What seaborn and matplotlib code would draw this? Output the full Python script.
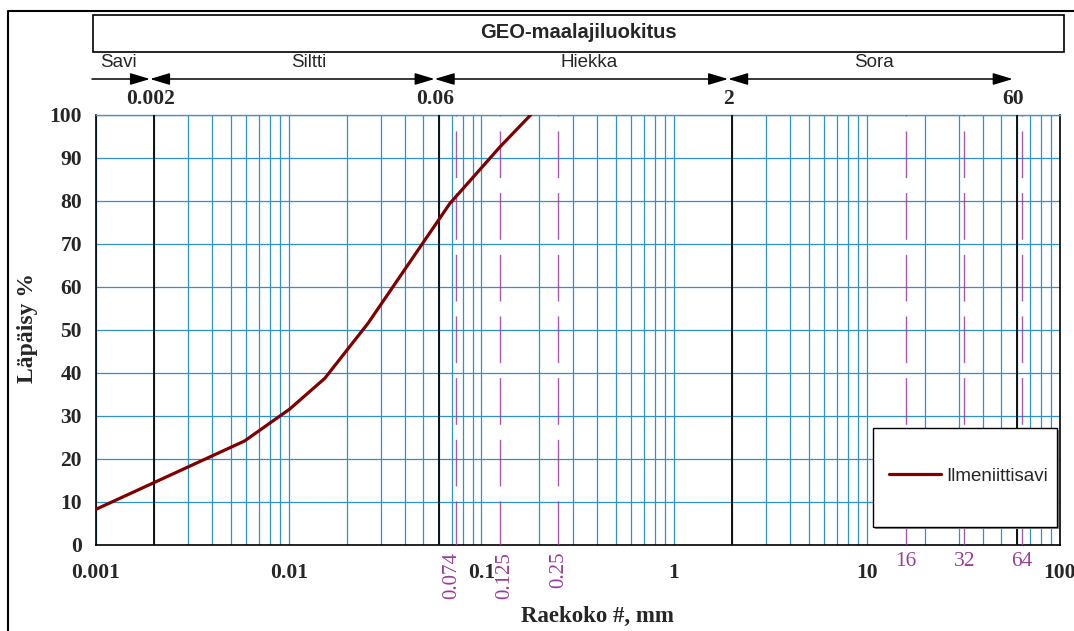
import numpy as np
import pandas as pd
import seaborn as sns
import matplotlib.pyplot as plt
import matplotlib.transforms as mtransforms
from matplotlib.patches import Rectangle
from matplotlib.lines import Line2D
from matplotlib.ticker import LogLocator, MultipleLocator, FuncFormatter, NullFormatter

# Grain size distribution data
#-------------------------------------------------------------------------------------------------#
grain_size_mm = [0.001, 0.0059, 0.0101, 0.0154, 0.0258, 0.0686, 0.125, 0.18]
passing_pct = [8.2, 24.1, 31.5, 38.7, 51.5, 79.4, 92.6, 100.0]
sample_name = "Ilmeniittisavi"

# GEO soil classes and their limits
class_names = ["Savi", "Siltti", "Hiekka", "Sora"]
class_limits = [0.002, 0.06, 2, 60]
class_limit_labels = ["0.002", "0.06", "2", "60"]

# sieve sizes marked with dashed lines
sieve_rotated = [0.074, 0.125, 0.25]
sieve_rotated_labels = ["0.074", "0.125", "0.25"]
sieve_flat = [16, 32, 64]
sieve_flat_labels = ["16", "32", "64"]

# layout only: x-positions of the class names, nudges of rotated sieve labels (px)
class_name_x = [0.00137, 0.0134, 0.38, 11.4]
sieve_label_dx = [-4, 5, 1]

GRID_BLUE = "#2e92cf"
PURPLE = "#9a3c9a"
DARK_RED = "#800000"

sns.set_style("white")
plt.rcParams["font.family"] = ["Liberation Serif", "DejaVu Serif"]
plt.rcParams["font.weight"] = "bold"

df = pd.DataFrame({"size": grain_size_mm, "passing": passing_pct})

W, H = 1074, 631
fig = plt.figure(figsize=(W / 100, H / 100), dpi=100)
ax = fig.add_axes([96 / W, (H - 544.5) / H, (1059.5 - 96) / W, (544.5 - 115) / H])

sns.lineplot(data=df, x="size", y="passing", ax=ax, color=DARK_RED, lw=2.3,
             label=sample_name, zorder=4)

ax.set_xscale("log")
ax.set_xlim(0.001, 100)
ax.set_ylim(0, 100)
ax.set_xlabel("")
ax.set_ylabel("")

ax.xaxis.set_major_locator(LogLocator(base=10, numticks=10))
ax.xaxis.set_minor_locator(LogLocator(base=10, subs=np.arange(2, 10), numticks=30))
ax.xaxis.set_major_formatter(FuncFormatter(lambda v, p: f"{v:g}"))
ax.xaxis.set_minor_formatter(NullFormatter())
ax.yaxis.set_major_locator(MultipleLocator(10))
ax.yaxis.set_minor_locator(MultipleLocator(2))

ax.tick_params(axis="both", which="both", direction="in", top=False, right=False,
               color="black", width=1.0)
ax.tick_params(axis="both", which="major", length=4.5, labelsize=15.5)
ax.tick_params(axis="both", which="minor", length=3)
ax.tick_params(axis="y", pad=10)
ax.tick_params(axis="x", pad=13)

ax.xaxis.grid(True, which="both", color=GRID_BLUE, lw=0.9)
ax.yaxis.grid(True, which="major", color=GRID_BLUE, lw=0.9)

for side in ["left", "bottom", "right"]:
    ax.spines[side].set_color("black")
    ax.spines[side].set_linewidth(1.2)
ax.spines["top"].set_color("#5d8db0")
ax.spines["top"].set_linewidth(1.0)

# class limits
for lim in class_limits:
    ax.axvline(lim, color="#111111", lw=1.4, zorder=3)

# sieve lines (axvline runs bottom -> top, long dash / short gap)
for s in sieve_rotated + sieve_flat:
    ax.axvline(s, color=PURPLE, lw=1.0, ls=(1.9, (33.6, 10.8)), zorder=3, alpha=0.85)

# sieve labels under the axis
tr_bottom = mtransforms.blended_transform_factory(ax.transData, fig.transFigure)
for s, lab, dx in zip(sieve_rotated, sieve_rotated_labels, sieve_label_dx):
    tr = tr_bottom + mtransforms.ScaledTranslation(dx / 100, 0, fig.dpi_scale_trans)
    ax.text(s, 1 - 552 / H, lab, transform=tr, rotation=90, ha="center", va="top",
            color=PURPLE, fontsize=15, fontweight="normal")
for s, lab in zip(sieve_flat, sieve_flat_labels):
    ax.text(s, 1 - 562 / H, lab, transform=tr_bottom, ha="center", va="center",
            color=PURPLE, fontsize=15.5, fontweight="normal")

# legend with its own white box
shadow = Rectangle((0.8087, 0.035), 0.191, 0.232, transform=ax.transAxes,
                   facecolor="#8a8a8a", edgecolor="none", zorder=5, clip_on=False)
box = Rectangle((0.8067, 0.04), 0.191, 0.232, transform=ax.transAxes,
                facecolor="white", edgecolor="black", lw=1.0, zorder=5.5, clip_on=False)
ax.add_patch(shadow)
ax.add_patch(box)
handles, labels = ax.get_legend_handles_labels()
leg = ax.legend(handles, labels, loc="center left", bbox_to_anchor=(0.823, 0.1595),
                frameon=False, borderpad=0, borderaxespad=0, handlelength=2.75,
                handletextpad=0.28, prop={"family": "Liberation Sans", "weight": "normal",
                                          "size": 13.5})
leg.set_zorder(6)

# header: outer frame, title box, class arrows
fig.add_artist(Line2D([8 / W, 8 / W, 1.0], [0, 1 - 11 / H, 1 - 11 / H],
                      color="black", lw=1.5))
fig.add_artist(Rectangle((92.7 / W, 1 - 51.7 / H), (1064 - 92.7) / W, (51.7 - 15) / H,
                         transform=fig.transFigure, facecolor="white", edgecolor="black",
                         lw=1.2))
fig.text((92.7 + 1064) / 2 / W, 1 - 33 / H, "GEO-maalajiluokitus", ha="center", va="center",
         family="Liberation Sans", fontweight="bold", fontsize=14.5)

tr_head = mtransforms.blended_transform_factory(ax.transData, fig.transFigure) + \
    mtransforms.ScaledTranslation(-4 / 100, 0, fig.dpi_scale_trans)
y_arrow = 1 - 79 / H
arrow_kw = dict(mutation_scale=10, color="black", lw=1.1, shrinkA=0, shrinkB=0)
starts = [0.001] + class_limits[:-1]
for i, (x0, x1) in enumerate(zip(starts, class_limits)):
    style = "-|>" if i == 0 else "<|-|>"
    ax.annotate("", xy=(x1, y_arrow), xytext=(x0, y_arrow), xycoords=tr_head,
                textcoords=tr_head, annotation_clip=False,
                arrowprops=dict(arrowstyle=f"{style},head_length=1.2,head_width=0.36",
                                **arrow_kw))
for x, name in zip(class_name_x, class_names):
    ax.text(x, 1 - 62.5 / H, name, transform=tr_head, ha="center", va="center",
            family="Liberation Sans", fontweight="normal", fontsize=13.5)
for x, lab in zip(class_limits, class_limit_labels):
    ax.text(x, 1 - 98.5 / H, lab, transform=tr_head, ha="center", va="center",
            fontsize=15.5)

# axis titles
fig.text(28 / W, 1 - 328 / H, "Läpäisy %", rotation=90, ha="center", va="center", fontsize=17)
fig.text(597 / W, 1 - 616 / H, "Raekoko #, mm", ha="center", va="center", fontsize=16.5)

fig.savefig("out.png", dpi=100)
